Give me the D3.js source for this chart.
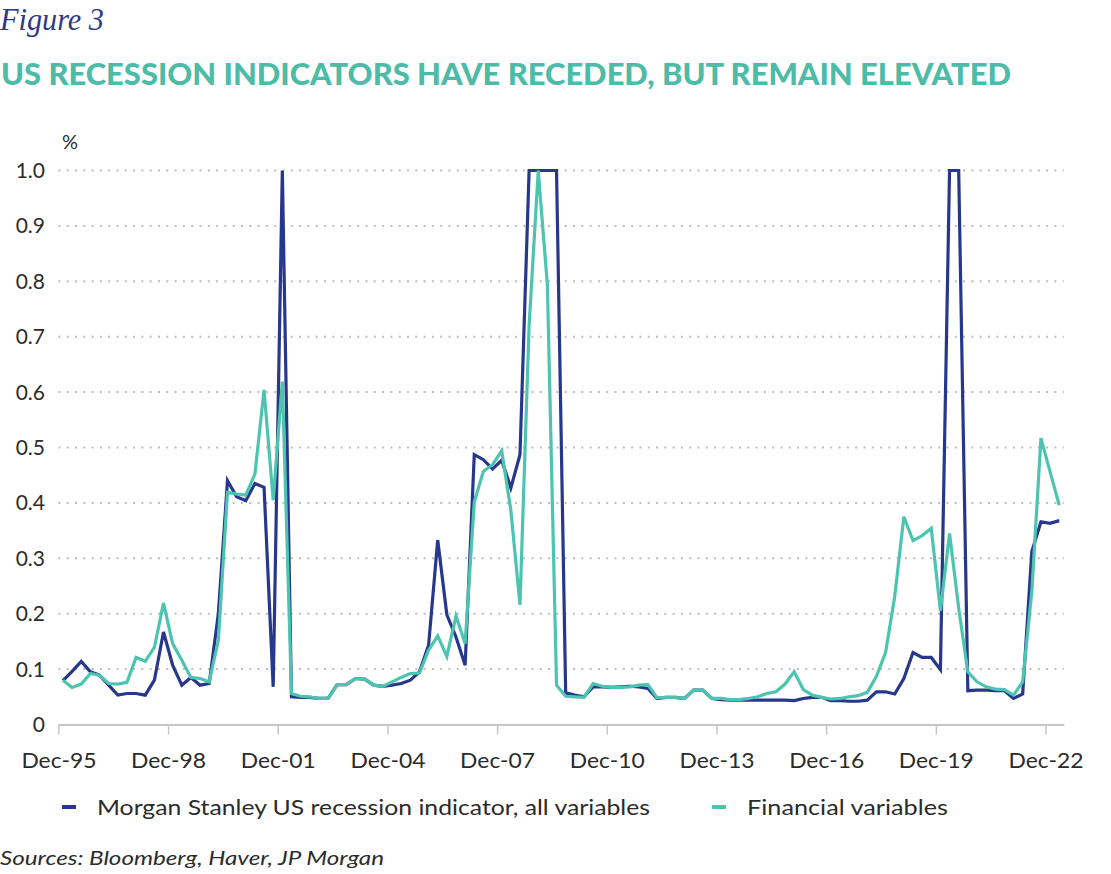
<!DOCTYPE html>
<html><head><meta charset="utf-8">
<script src="https://cdn.jsdelivr.net/npm/d3@7"></script>
<style>body{margin:0;background:#fff}svg{display:block}</style>
</head><body><svg id="c" width="1111" height="874"></svg>
<script>
// Quarterly, Dec-95 .. Mar-23
const msAllVariables = [
0.079,0.096,0.114,0.095,0.089,0.071,0.053,0.056,0.056,0.053,
0.080,0.167,0.107,0.071,0.085,0.071,0.074,0.200,0.440,0.411,
0.404,0.435,0.428,0.068,1.000,0.050,0.049,0.049,0.047,0.047,
0.072,0.072,0.083,0.082,0.071,0.069,0.071,0.074,0.080,0.095,
0.143,0.333,0.198,0.158,0.107,0.487,0.478,0.461,0.477,0.427,
0.487,1.000,1.000,1.000,1.000,0.057,0.053,0.050,0.068,0.068,
0.067,0.068,0.069,0.068,0.065,0.047,0.049,0.049,0.047,0.062,
0.062,0.047,0.045,0.044,0.044,0.044,0.044,0.044,0.044,0.044,
0.043,0.047,0.049,0.049,0.043,0.043,0.042,0.042,0.044,0.059,
0.059,0.055,0.083,0.130,0.121,0.121,0.099,1.000,1.000,0.061,
0.062,0.062,0.061,0.061,0.047,0.055,0.312,0.366,0.363,0.368];
const financialVariables = [
0.080,0.067,0.073,0.092,0.089,0.074,0.073,0.076,0.121,0.114,
0.139,0.219,0.146,0.116,0.085,0.083,0.077,0.152,0.419,0.416,
0.414,0.452,0.604,0.405,0.619,0.056,0.051,0.050,0.047,0.047,
0.072,0.072,0.083,0.082,0.071,0.069,0.077,0.085,0.092,0.093,
0.134,0.160,0.123,0.196,0.146,0.402,0.457,0.469,0.494,0.387,
0.216,0.720,1.000,0.793,0.071,0.051,0.050,0.049,0.074,0.069,
0.067,0.067,0.068,0.071,0.072,0.048,0.049,0.049,0.047,0.062,
0.062,0.047,0.047,0.045,0.045,0.047,0.050,0.056,0.059,0.073,
0.095,0.063,0.053,0.049,0.046,0.047,0.050,0.052,0.058,0.087,
0.130,0.231,0.375,0.332,0.341,0.354,0.205,0.345,0.210,0.095,
0.077,0.068,0.064,0.063,0.053,0.077,0.240,0.517,0.456,0.396];
const tickLabels = ["Dec-95","Dec-98","Dec-01","Dec-04","Dec-07","Dec-10","Dec-13","Dec-16","Dec-19","Dec-22"];
const tickCategoryIndex = [0,12,24,36,48,60,72,84,96,108];
const yTickValues = [0,0.1,0.2,0.3,0.4,0.5,0.6,0.7,0.8,0.9,1.0];
const yTickLabels = ["0","0.1","0.2","0.3","0.4","0.5","0.6","0.7","0.8","0.9","1.0"];
const seriesNames = ["Morgan Stanley US recession indicator, all variables","Financial variables"];
const categories = msAllVariables.map((_, i) => d3.timeFormat("%b-%y")(new Date(1995, 11 + 3 * i, 1)));

const NAVY = "#27378c", TEAL = "#4dc4b0", TXT = "#2b2b2b";
const svg = d3.select("#c");
const FONT = "Lato, 'Open Sans', sans-serif";

const x = d3.scaleLinear().domain([-0.5, categories.length - 0.5]).range([58.4, 1063.8]);
const y = d3.scaleLinear().domain([0, 1]).range([724.5, 170.5]);

// Header
svg.append("text").attr("x", 0).attr("y", 30)
  .attr("font-family", "'Liberation Serif', serif").attr("font-style", "italic")
  .attr("font-size", 31).attr("fill", "#2e3a87")
  .attr("textLength", 104).attr("lengthAdjust", "spacingAndGlyphs").text("Figure 3");
svg.append("text").attr("x", 1).attr("y", 85)
  .attr("font-family", FONT).attr("font-weight", 900)
  .attr("font-size", 31).attr("fill", "#4cbba7")
  .attr("textLength", 1010).attr("lengthAdjust", "spacingAndGlyphs")
  .text("US RECESSION INDICATORS HAVE RECEDED, BUT REMAIN ELEVATED");

// unit
svg.append("text").attr("x", 62).attr("y", 149).attr("font-family", FONT)
  .attr("font-size", 20).attr("fill", TXT).text("%");

// gridlines
svg.append("g").selectAll("line").data(yTickValues.filter(v => v > 0)).join("line")
  .attr("x1", x(-0.5)).attr("x2", x(categories.length - 0.5))
  .attr("y1", d => y(d)).attr("y2", d => y(d))
  .attr("stroke", "#bdbdbd").attr("stroke-width", 2).attr("stroke-dasharray", "2,6.3");

// y labels
svg.append("g").selectAll("text").data(yTickValues).join("text")
  .attr("x", 45).attr("y", d => y(d)).attr("dy", "0.36em")
  .attr("text-anchor", "end").attr("font-family", FONT).attr("font-size", 21)
  .attr("fill", TXT).text((d, i) => yTickLabels[i]);

// x axis
const xAxis = d3.axisBottom(x)
  .tickValues(tickCategoryIndex.map(i => i - 0.5))
  .tickFormat((d, i) => tickLabels[i])
  .tickSize(10).tickSizeOuter(0).tickPadding(19);
const gx = svg.append("g").attr("transform", `translate(0,${y(0)})`).call(xAxis);
gx.select(".domain").attr("stroke", "#c6c6c6").attr("stroke-width", 2);
gx.selectAll(".tick line").attr("stroke", "#c6c6c6").attr("stroke-width", 1.5);
gx.selectAll(".tick text").attr("font-family", FONT).attr("font-size", 21).attr("fill", TXT)
  .attr("textLength", 75).attr("lengthAdjust", "spacingAndGlyphs");

// lines
const line = d3.line().x((d, i) => x(i)).y(d => y(d));
svg.append("path").datum(msAllVariables).attr("d", line)
  .attr("fill", "none").attr("stroke", NAVY).attr("stroke-width", 3.2);
svg.append("path").datum(financialVariables).attr("d", line)
  .attr("fill", "none").attr("stroke", TEAL).attr("stroke-width", 3.2);

// legend
const legend = [{name: seriesNames[0], color: NAVY, x: 62, w: 553}, {name: seriesNames[1], color: TEAL, x: 712, w: 201}];
const lg = svg.append("g").selectAll("g").data(legend).join("g");
lg.append("line").attr("x1", d => d.x).attr("x2", d => d.x + 14)
  .attr("y1", 807).attr("y2", 807).attr("stroke", d => d.color).attr("stroke-width", 4);
lg.append("text").attr("x", d => d.x + 35).attr("y", 807).attr("dy", "0.36em")
  .attr("font-family", FONT).attr("font-size", 22).attr("fill", TXT)
  .attr("textLength", d => d.w).attr("lengthAdjust", "spacingAndGlyphs").text(d => d.name);

// source
svg.append("text").attr("x", 0).attr("y", 865).attr("font-family", FONT)
  .attr("font-style", "italic").attr("font-size", 20).attr("fill", TXT)
  .attr("textLength", 384).attr("lengthAdjust", "spacingAndGlyphs")
  .text("Sources: Bloomberg, Haver, JP Morgan");
</script></body></html>
